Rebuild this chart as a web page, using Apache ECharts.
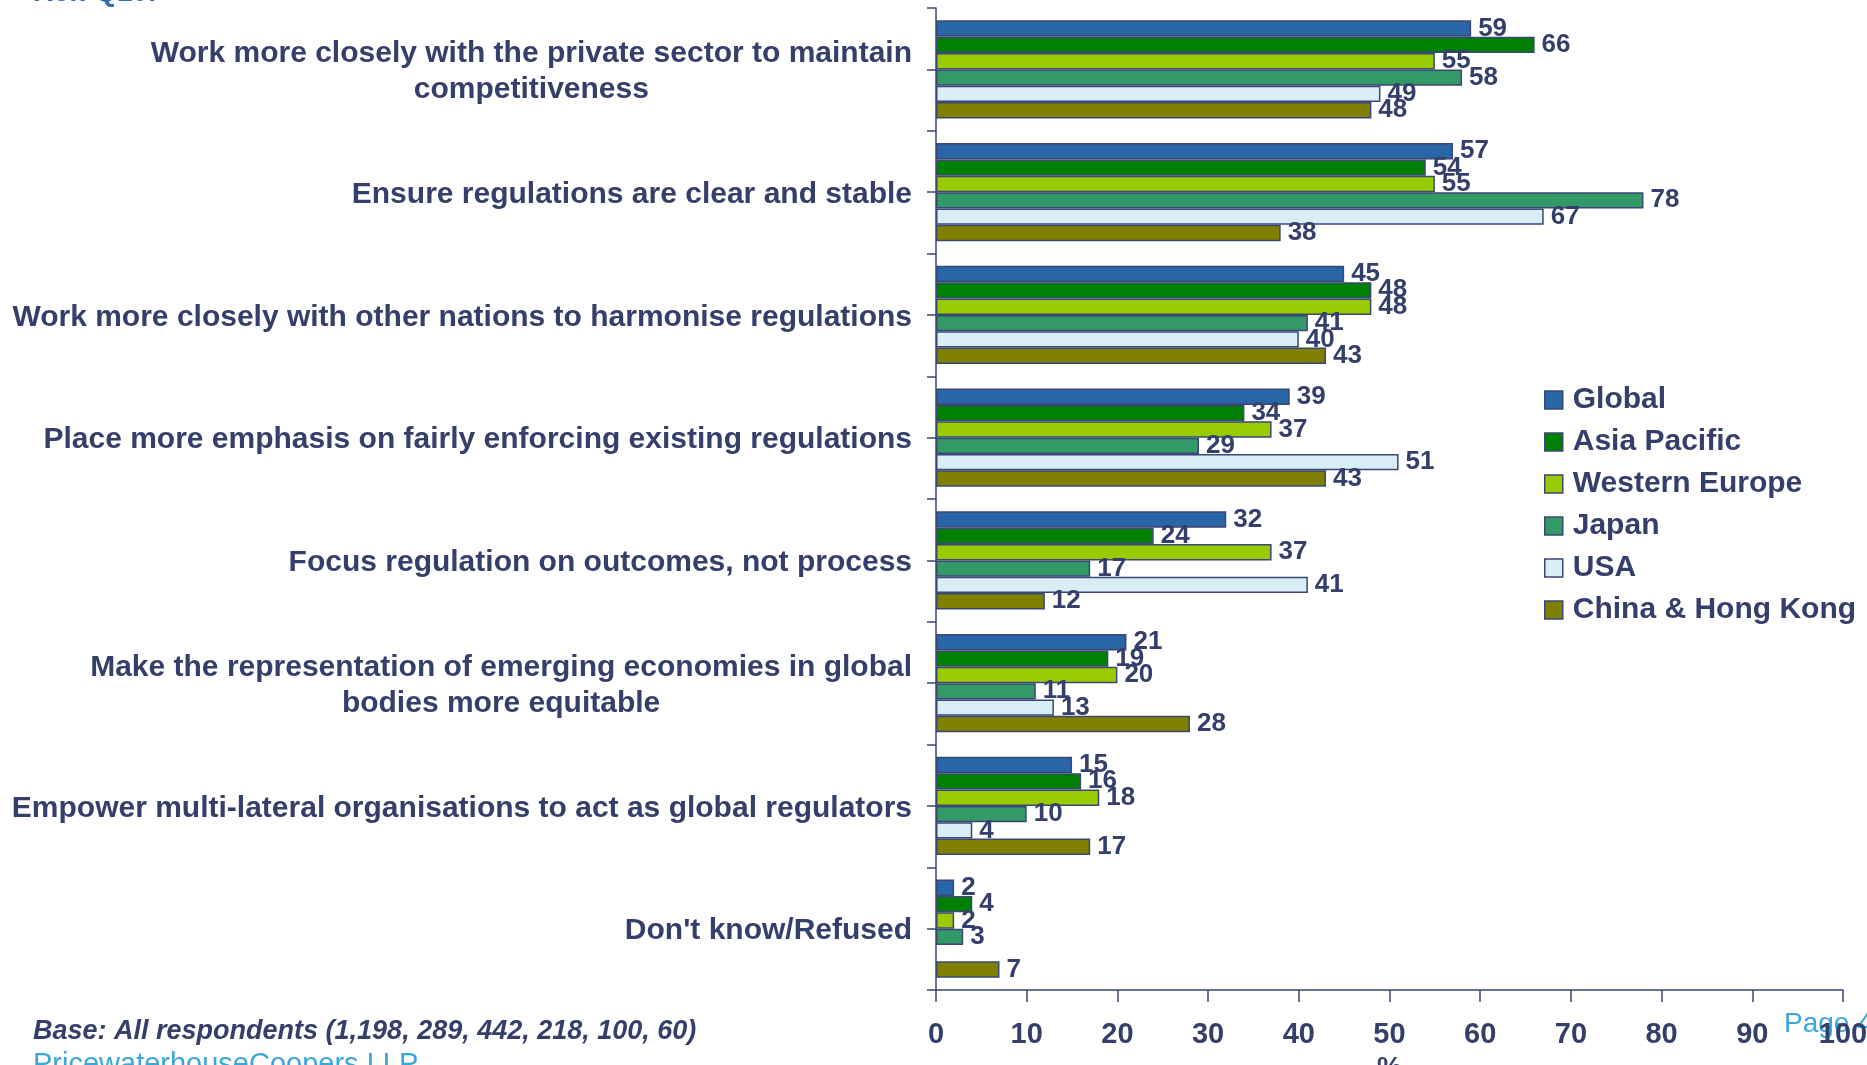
<!DOCTYPE html>
<html>
<head>
<meta charset="utf-8">
<script src="https://cdn.jsdelivr.net/npm/echarts@6/dist/echarts.min.js"></script>
<style>
html,body{margin:0;padding:0;background:#fff;}
#chart{width:1867px;height:1065px;}
</style>
</head>
<body>
<div id="chart"></div>
<script>
const categories = [
  "Work more closely with the private sector to maintain\ncompetitiveness",
  "Ensure regulations are clear and stable",
  "Work more closely with other nations to harmonise regulations",
  "Place more emphasis on fairly enforcing existing regulations",
  "Focus regulation on outcomes, not process",
  "Make the representation of emerging economies in global\nbodies more equitable",
  "Empower multi-lateral organisations to act as global regulators",
  "Don't know/Refused"
];
const seriesNames = ["Global", "Asia Pacific", "Western Europe", "Japan", "USA", "China & Hong Kong"];
const globalVals   = [59, 57, 45, 39, 32, 21, 15, 2];
const asiaPacific  = [66, 54, 48, 34, 24, 19, 16, 4];
const westernEurope= [55, 55, 48, 37, 37, 20, 18, 2];
const japan        = [58, 78, 41, 29, 17, 11, 10, 3];
const usa          = [49, 67, 40, 51, 41, 13, 4, null];
const chinaHK      = [48, 38, 43, 43, 12, 28, 17, 7];
const xTickLabels  = [0, 10, 20, 30, 40, 50, 60, 70, 80, 90, 100];
const seriesColors = ["#2866a7", "#008000", "#99cc00", "#339966", "#d8edf6", "#808000"];

const TXT = "#353f6c";
const BORDER = "#3b4775";
const valuesList = [globalVals, asiaPacific, westernEurope, japan, usa, chinaHK];

const chart = echarts.init(document.getElementById('chart'), null, {renderer: 'canvas'});

const series = seriesNames.map((name, i) => ({
  name: name,
  type: 'bar',
  xAxisIndex: 0,
  yAxisIndex: 0,
  data: valuesList[i],
  barGap: '0%',
  barCategoryGap: '20%',
  itemStyle: {color: seriesColors[i], borderColor: BORDER, borderWidth: 1.5},
  label: {
    show: true,
    position: 'right',
    distance: 7,
    color: TXT,
    fontFamily: 'Liberation Sans, Arial, sans-serif',
    fontWeight: 'bold',
    fontSize: 26,
    formatter: p => (p.value == null ? '' : p.value)
  },
  emphasis: {disabled: true},
  animation: false
}));

const halfTicks = [];
for (let i = 0; i < categories.length * 2; i++) halfTicks.push('t' + i);

const option = {
  backgroundColor: '#ffffff',
  animation: false,
  textStyle: {fontFamily: 'Liberation Sans, Arial, sans-serif'},
  grid: [
    {left: 936, top: 8, right: 24, bottom: 75, containLabel: false, outerBoundsMode: 'none'},
    {left: 936, top: 8, right: 24, bottom: 75, containLabel: false, outerBoundsMode: 'none'}
  ],
  legend: {
    orient: 'vertical',
    left: 1539,
    top: 380,
    itemWidth: 18,
    itemHeight: 18,
    itemGap: 12,
    icon: 'rect',
    data: seriesNames,
    itemStyle: {borderColor: BORDER, borderWidth: 1.5},
    textStyle: {
      color: TXT,
      fontFamily: 'Liberation Sans, Arial, sans-serif',
      fontWeight: 'bold',
      fontSize: 30,
      lineHeight: 30,
      padding: [0, 0, 0, 5]
    },
    selectedMode: false
  },
  xAxis: [
    {
      type: 'value',
      gridIndex: 0,
      min: 0,
      max: 100,
      interval: 10,
      name: '%',
      nameLocation: 'middle',
      nameGap: 64,
      nameTextStyle: {color: TXT, fontWeight: 'bold', fontSize: 28, fontFamily: 'Liberation Sans, Arial, sans-serif'},
      axisLine: {show: true, lineStyle: {color: BORDER, width: 1.5}},
      axisTick: {show: true, length: 12, lineStyle: {color: BORDER, width: 1.5}},
      splitLine: {show: false},
      axisLabel: {
        color: TXT,
        fontWeight: 'bold',
        fontSize: 29,
        margin: 30,
        fontFamily: 'Liberation Sans, Arial, sans-serif',
        formatter: v => (xTickLabels.indexOf(v) >= 0 ? String(v) : '')
      }
    },
    {
      type: 'value', gridIndex: 1, min: 0, max: 100, show: false
    }
  ],
  yAxis: [
    {
      type: 'category',
      gridIndex: 0,
      inverse: true,
      data: categories,
      axisLine: {show: true, lineStyle: {color: BORDER, width: 1.5}},
      axisTick: {show: false},
      axisLabel: {
        margin: 24,
        padding: [5, 0, 0, 0],
        color: TXT,
        fontWeight: 'bold',
        fontSize: 30,
        lineHeight: 36,
        fontFamily: 'Liberation Sans, Arial, sans-serif',
        formatter: v => v.split('\n').map(s => '{c|' + s + '}').join('\n'),
        rich: {
          c: {align: 'center', color: TXT, fontWeight: 'bold', fontSize: 30, lineHeight: 36, fontFamily: 'Liberation Sans, Arial, sans-serif'}
        }
      }
    },
    {
      type: 'category',
      gridIndex: 1,
      inverse: true,
      data: halfTicks,
      axisLine: {show: false},
      axisTick: {show: true, length: 9, lineStyle: {color: BORDER, width: 1.5}},
      axisLabel: {show: false}
    }
  ],
  graphic: [
    {
      type: 'text', left: 33, top: -21,
      style: {text: 'Ref: Q10.', fill: '#2f6db3', font: 'bold 28px "Liberation Sans", Arial, sans-serif'}
    },
    {
      type: 'text', left: 33, top: 1018,
      style: {text: 'Base: All respondents (1,198, 289, 442, 218, 100, 60)', fill: TXT, font: 'italic bold 27px "Liberation Sans", Arial, sans-serif'}
    },
    {
      type: 'text', left: 33, top: 1050,
      style: {text: 'PricewaterhouseCoopers LLP', fill: '#3aa6dc', font: '29px "Liberation Sans", Arial, sans-serif'}
    },
    {
      type: 'text', left: 1784, top: 1010,
      style: {text: 'Page 4', fill: '#3aa6dc', font: '28px "Liberation Sans", Arial, sans-serif'}
    }
  ],
  series: series
};

chart.setOption(option);
</script>
</body>
</html>
